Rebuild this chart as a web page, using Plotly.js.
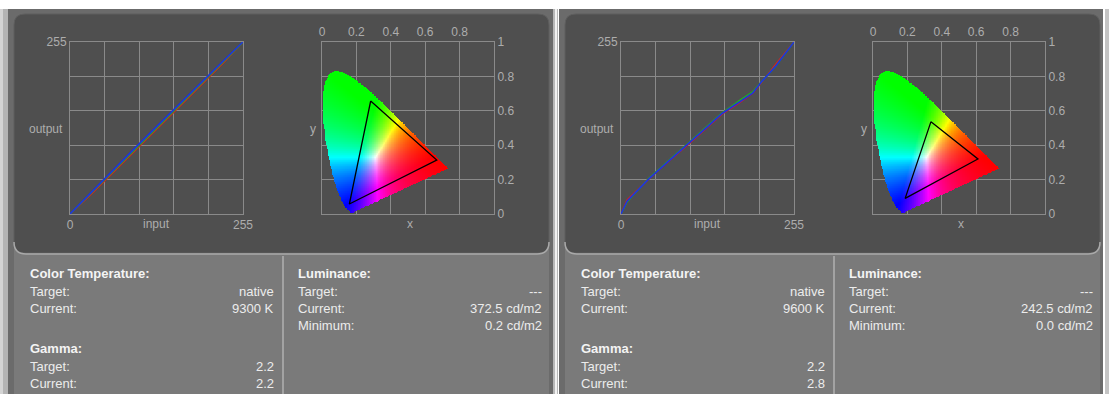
<!DOCTYPE html>
<html><head><meta charset="utf-8">
<script src="https://cdn.plot.ly/plotly-3.0.1.min.js"></script>
<style>html,body{margin:0;padding:0;background:#fff;}#chart{width:1109px;height:394px;}</style>
</head><body><div id="chart"></div>
<script>
// ---------- DATA ----------
// Gamma curves (input -> output, 0..255)
const gammaIn1 = [0, 32, 64, 96, 128, 160, 192, 224, 255];
const gammaR1  = [0, 30, 62, 94, 126, 158, 190, 222, 255];
const gammaG1  = [0, 32, 64, 96, 128, 160, 192, 224, 255];
const gammaB1  = [0, 33, 66, 98, 130, 162, 194, 225, 255];

const gammaIn2 = [0, 9, 41, 53, 100, 128, 149, 176, 194, 208, 228, 255];
const gammaR2  = [0, 21, 52, 63, 104, 129, 148, 166, 179, 196, 222, 255];
const gammaG2  = [0, 18, 53, 64, 106, 131, 150, 169, 181, 197, 219, 255];
const gammaB2  = [0, 19, 52, 63, 105, 130, 149, 167, 179, 197, 219, 255];

// CIE 1931 spectral locus (380..700 nm)
const locusX = [0.1741,0.1740,0.1738,0.1736,0.1733,0.1730,0.1726,0.1721,0.1714,0.1703,0.1689,0.1669,0.1644,0.1611,0.1566,0.1510,0.1440,0.1355,0.1241,0.1096,0.0913,0.0687,0.0454,0.0235,0.0082,0.0039,0.0139,0.0389,0.0743,0.1142,0.1547,0.1929,0.2296,0.2658,0.3016,0.3373,0.3731,0.4087,0.4441,0.4788,0.5125,0.5448,0.5752,0.6029,0.6270,0.6482,0.6658,0.6801,0.6915,0.7006,0.7079,0.7140,0.7190,0.7230,0.7260,0.7283,0.7300,0.7347];
const locusY = [0.0050,0.0050,0.0049,0.0049,0.0048,0.0048,0.0048,0.0048,0.0051,0.0058,0.0069,0.0086,0.0109,0.0138,0.0177,0.0227,0.0297,0.0399,0.0578,0.0868,0.1327,0.2007,0.2950,0.4127,0.5384,0.6548,0.7502,0.8120,0.8338,0.8262,0.8059,0.7816,0.7543,0.7243,0.6923,0.6589,0.6245,0.5896,0.5547,0.5202,0.4866,0.4544,0.4242,0.3965,0.3725,0.3514,0.3340,0.3197,0.3083,0.2993,0.2920,0.2859,0.2809,0.2770,0.2740,0.2717,0.2700,0.2653];

// Measured gamut triangles (green, red, blue)
const gamut1X = [0.283, 0.667, 0.159];
const gamut1Y = [0.657, 0.314, 0.058];
const gamut2X = [0.337, 0.610, 0.187];
const gamut2Y = [0.537, 0.320, 0.091];

// Info texts
const headings = ["Color Temperature:", "Gamma:", "Luminance:"];
const ctLabels = ["Target:", "Current:"];
const ctValues1 = ["native", "9300 K"];
const ctValues2 = ["native", "9600 K"];
const gmLabels = ["Target:", "Current:"];
const gmValues1 = ["2.2", "2.2"];
const gmValues2 = ["2.2", "2.8"];
const lumLabels = ["Target:", "Current:", "Minimum:"];
const lumValues1 = ["---", "372.5 cd/m2", "0.2 cd/m2"];
const lumValues2 = ["---", "242.5 cd/m2", "0.0 cd/m2"];

const gammaTicks = [0, 51, 102, 153, 204, 255];
const cieTicks = [0, 0.2, 0.4, 0.6, 0.8, 1];

// ---------- HELPERS ----------
const W = 1109, H = 394;
const px = x => x / W;
const py = y => 1 - y / H;

function inside(x, y) {
  let c = false;
  const n = locusX.length;
  for (let i = 0, j = n - 1; i < n; j = i++) {
    const xi = locusX[i], yi = locusY[i], xj = locusX[j], yj = locusY[j];
    if (((yi > y) !== (yj > y)) && (x < (xj - xi) * (y - yi) / (yj - yi) + xi)) c = !c;
  }
  return c;
}
const STEP = 0.004;
function cieImage() {
  const nx = Math.round(0.76 / STEP), ny = Math.round(0.86 / STEP);
  const z = [];
  for (let j = 0; j < ny; j++) {
    const y = (j + 0.5) * STEP;
    const row = [];
    for (let i = 0; i < nx; i++) {
      const x = (i + 0.5) * STEP;
      if (!inside(x, y)) { row.push([0, 0, 0, 0]); continue; }
      const X = x / y, Y = 1, Z = (1 - x - y) / y;
      let r = 3.2406 * X - 1.5372 * Y - 0.4986 * Z;
      let g = -0.9689 * X + 1.8758 * Y + 0.0415 * Z;
      let b = 0.0557 * X - 0.2040 * Y + 1.0570 * Z;
      r = Math.max(r, 0); g = Math.max(g, 0); b = Math.max(b, 0);
      const m = Math.max(r, g, b) || 1;
      const f = v => Math.round(255 * Math.pow(v / m, 1.0));
      row.push([f(r), f(g), f(b), 1]);
    }
    z.push(row);
  }
  return z;
}
const cieZ = cieImage();

const OFF = 551;
const gridC = '#8a8a8a', tickC = '#adadad';
const tickFont = {family: 'Liberation Sans, Arial, sans-serif', size: 12, color: tickC};

function gammaAxes(x0) {
  const xa = {domain: [px(x0), px(x0 + 173)], range: [0, 255], tickvals: gammaTicks,
    ticktext: ['0', '', '', '', '', '255'], showgrid: true, gridcolor: gridC, gridwidth: 1,
    zeroline: false, showline: true, linecolor: gridC, mirror: true, ticks: '', tickfont: tickFont, fixedrange: true};
  const ya = {domain: [py(214), py(42)], range: [0, 255], tickvals: gammaTicks,
    ticktext: ['', '', '', '', '', '255'], showgrid: true, gridcolor: gridC, gridwidth: 1,
    zeroline: false, showline: true, linecolor: gridC, mirror: true, ticks: '', tickfont: tickFont, fixedrange: true};
  return [xa, ya];
}
function cieAxes(x0) {
  const xa = {domain: [px(x0), px(x0 + 172)], range: [0, 1], tickvals: cieTicks,
    ticktext: ['0', '0.2', '0.4', '0.6', '0.8', ''], side: 'top', showgrid: true, gridcolor: gridC,
    zeroline: false, showline: true, linecolor: gridC, mirror: true, ticks: '', tickfont: tickFont, fixedrange: true};
  const ya = {domain: [py(214), py(42)], range: [0, 1], tickvals: cieTicks,
    ticktext: ['0', '0.2', '0.4', '0.6', '0.8', '1'], side: 'right', showgrid: true, gridcolor: gridC,
    zeroline: false, showline: true, linecolor: gridC, mirror: true, ticks: '', tickfont: tickFont,
    fixedrange: true, autorange: false};
  return [xa, ya];
}
const [xa1, ya1] = gammaAxes(70);
const [xa2, ya2] = cieAxes(322);
const [xa3, ya3] = gammaAxes(70 + OFF);
const [xa4, ya4] = cieAxes(322 + OFF);

function gammaTraces(xin, r, g, b, xax, yax) {
  return [[r, '#d42020'], [g, '#20b020'], [b, '#2030e0']].map(([v, c]) => ({
    type: 'scatter', mode: 'lines', x: xin, y: v, xaxis: xax, yaxis: yax,
    line: {color: c, width: 1.6}, hoverinfo: 'skip', showlegend: false}));
}
function cieTraces(gx, gy, xax, yax) {
  return [
    {type: 'image', z: cieZ, colormodel: 'rgba', x0: STEP / 2, dx: STEP, y0: STEP / 2, dy: STEP,
     xaxis: xax, yaxis: yax, hoverinfo: 'skip'},
    {type: 'scatter', mode: 'lines', x: gx.concat([gx[0]]), y: gy.concat([gy[0]]), xaxis: xax, yaxis: yax,
     line: {color: '#000000', width: 1.3}, hoverinfo: 'skip', showlegend: false}
  ];
}

const data = [].concat(
  gammaTraces(gammaIn1, gammaR1, gammaG1, gammaB1, 'x', 'y'),
  cieTraces(gamut1X, gamut1Y, 'x2', 'y2'),
  gammaTraces(gammaIn2, gammaR2, gammaG2, gammaB2, 'x3', 'y3'),
  cieTraces(gamut2X, gamut2Y, 'x4', 'y4')
);

// ---------- SHAPES ----------
function rr(x0, y0, x1, y1, r) {
  return `M ${px(x0 + r)} ${py(y0)} L ${px(x1 - r)} ${py(y0)} Q ${px(x1)} ${py(y0)} ${px(x1)} ${py(y0 + r)} ` +
    `L ${px(x1)} ${py(y1 - r)} Q ${px(x1)} ${py(y1)} ${px(x1 - r)} ${py(y1)} L ${px(x0 + r)} ${py(y1)} ` +
    `Q ${px(x0)} ${py(y1)} ${px(x0)} ${py(y1 - r)} L ${px(x0)} ${py(y0 + r)} Q ${px(x0)} ${py(y0)} ${px(x0 + r)} ${py(y0)} Z`;
}
function rect(x0, y0, x1, y1, fill) {
  return {type: 'rect', xref: 'paper', yref: 'paper', x0: px(x0), x1: px(x1), y0: py(y1), y1: py(y0),
    fillcolor: fill, line: {width: 0}, layer: 'below'};
}
const shapes = [
  rect(0, 9, 8, 394, '#d4d4d4'),
  rect(3, 9, 8, 394, '#b4b4b4'),
  rect(553, 9, 558, 394, '#b8b8b8'),
  rect(555, 9, 557, 394, '#f2f2f2'),
  rect(1105, 9, 1109, 394, '#c4c4c4'),
];
[0, OFF].forEach(o => {
  shapes.push(rect(8 + o, 9, 553 + o - (o ? 1 : 0), 394, '#6b6b6b'));
  shapes.push(rect(14 + o, 246, 549 + o, 394, '#7a7a7a'));
  shapes.push({type: 'path', xref: 'paper', yref: 'paper', path: rr(14 + o, 14, 549 + o, 253, 11),
    fillcolor: '#4f4f4f', line: {color: '#5e5e5e', width: 1}, layer: 'below'});
  shapes.push({type: 'path', xref: 'paper', yref: 'paper',
    path: `M ${px(14 + o)} ${py(242)} Q ${px(14 + o)} ${py(254)} ${px(26 + o)} ${py(254)} L ${px(537 + o)} ${py(254)} Q ${px(549 + o)} ${py(254)} ${px(549 + o)} ${py(242)}`,
    line: {color: '#a9a9a9', width: 1.5}, layer: 'below'});
  shapes.push({type: 'line', xref: 'paper', yref: 'paper', x0: px(283 + o), x1: px(283 + o),
    y0: py(394), y1: py(256), line: {color: '#b2b2b2', width: 1.5}, layer: 'below'});
});

// ---------- ANNOTATIONS ----------
const FONT = 'Liberation Sans, Arial, sans-serif';
function ann(text, x, y, anchor, opts = {}) {
  return {text, xref: 'paper', yref: 'paper', x: px(x), y: py(y), xanchor: anchor,
    yanchor: 'middle', showarrow: false,
    font: {family: FONT, size: opts.size || 13, color: opts.color || '#ececec', weight: opts.weight || 'normal'}};
}
const annotations = [];
[[0, ctValues1, gmValues1, lumValues1], [OFF, ctValues2, gmValues2, lumValues2]].forEach(([o, ct, gm, lum]) => {
  const ax = {size: 12, color: tickC};
  annotations.push(ann('output', 65 + o, 129, 'right', ax));
  annotations.push(ann('input', 156 + o, 224, 'center', ax));
  annotations.push(ann('x', 410 + o, 224, 'center', ax));
  annotations.push(ann('y', 313 + o, 129, 'center', ax));
  const hb = {weight: 'bold', color: '#f4f4f4'};
  annotations.push(ann(headings[0], 28 + o, 273, 'left', hb));
  ctLabels.forEach((t, i) => {
    annotations.push(ann(t, 28 + o, 291 + 17 * i, 'left'));
    annotations.push(ann(ct[i], 276 + o, 291 + 17 * i, 'right'));
  });
  annotations.push(ann(headings[1], 28 + o, 348, 'left', hb));
  gmLabels.forEach((t, i) => {
    annotations.push(ann(t, 28 + o, 366 + 17 * i, 'left'));
    annotations.push(ann(gm[i], 276 + o, 366 + 17 * i, 'right'));
  });
  annotations.push(ann(headings[2], 296 + o, 273, 'left', hb));
  lumLabels.forEach((t, i) => {
    annotations.push(ann(t, 296 + o, 291 + 17 * i, 'left'));
    annotations.push(ann(lum[i], 544 + o, 291 + 17 * i, 'right'));
  });
});

const layout = {
  width: W, height: H, margin: {l: 0, r: 0, t: 0, b: 0},
  paper_bgcolor: '#ffffff', plot_bgcolor: 'rgba(0,0,0,0)', showlegend: false,
  xaxis: Object.assign(xa1, {anchor: 'y'}), yaxis: Object.assign(ya1, {anchor: 'x'}),
  xaxis2: Object.assign(xa2, {anchor: 'y2'}), yaxis2: Object.assign(ya2, {anchor: 'x2'}),
  xaxis3: Object.assign(xa3, {anchor: 'y3'}), yaxis3: Object.assign(ya3, {anchor: 'x3'}),
  xaxis4: Object.assign(xa4, {anchor: 'y4'}), yaxis4: Object.assign(ya4, {anchor: 'x4'}),
  shapes, annotations
};
Plotly.newPlot('chart', data, layout, {staticPlot: true, displayModeBar: false});
</script></body></html>
